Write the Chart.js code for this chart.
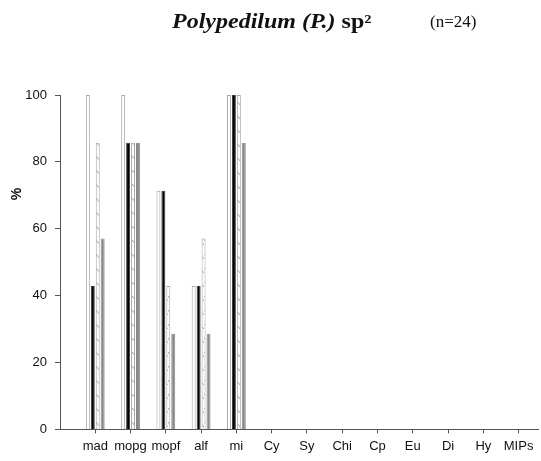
<!DOCTYPE html>
<html>
<head>
<meta charset="utf-8">
<script src="https://cdn.jsdelivr.net/npm/chart.js@4.4.1/dist/chart.umd.min.js"></script>
<style>
  html, body { margin: 0; padding: 0; background: #fff; }
  #wrap { position: relative; width: 541px; height: 461px; overflow: hidden; }
  #c { position: absolute; left: 0; top: 0; }
  .title { position: absolute; white-space: nowrap; font-family: "Liberation Serif", "Times New Roman", serif; color: #111; line-height: 20px; }
  #t1 { left: 172px; top: 11px; font-size: 20px; font-weight: bold; transform: scaleX(1.2); transform-origin: 0 0; }
  #t1 i { font-style: italic; }
  #t2 { left: 430px; top: 12px; font-size: 17px; }
  #ytitle { position: absolute; left: 8px; top: 186px; width: 16px; height: 16px; line-height: 16px; text-align: center;
            font-family: "Liberation Sans", Arial, sans-serif; font-weight: bold; font-size: 14px; color: #111;
            transform: rotate(-90deg); }
</style>
</head>
<body>
<div id="wrap">
  <canvas id="c" width="541" height="461"></canvas>
  <div class="title" id="t1"><i>Polypedilum (P.)</i> sp²</div>
  <div class="title" id="t2">(n=24)</div>
  <div id="ytitle">%</div>
</div>
<script>
const categories = ['mad','mopg','mopf','alf','mi','Cy','Sy','Chi','Cp','Eu','Di','Hy','MIPs'];
const seriesWhite   = [100, 100, 71.4, 42.9, 100, null, null, null, null, null, null, null, null];
const seriesBlack   = [42.9, 85.7, 71.4, 42.9, 100, null, null, null, null, null, null, null, null];
const seriesHatched = [85.7, 85.7, 42.9, 57.1, 100, null, null, null, null, null, null, null, null];
const seriesGray    = [57.1, 85.7, 28.6, 28.6, 85.7, null, null, null, null, null, null, null, null];
const yTicks = [0, 20, 40, 60, 80, 100];

function hatchPattern() {
  const p = document.createElement('canvas');
  p.width = 4; p.height = 14;
  const g = p.getContext('2d');
  g.fillStyle = '#fff';
  g.fillRect(0, 0, 4, 14);
  g.strokeStyle = '#9a9a9a';
  g.lineWidth = 1;
  g.beginPath();
  g.moveTo(0, 2); g.lineTo(4, 7);
  g.stroke();
  return g.createPattern(p, 'repeat');
}

const ctx = document.getElementById('c').getContext('2d');
const toXY = arr => arr.map((v, i) => ({ x: i, y: v }));

new Chart(ctx, {
  type: 'bar',
  data: {
    datasets: [
      { label: 'white', data: toXY(seriesWhite), backgroundColor: '#ffffff', borderColor: '#a8a8a8', borderWidth: 1 },
      { label: 'black', data: toXY(seriesBlack), backgroundColor: '#000000', borderColor: '#3a3a3a', borderWidth: 1 },
      { label: 'hatched', data: toXY(seriesHatched), backgroundColor: hatchPattern(), borderColor: '#a8a8a8', borderWidth: 1 },
      { label: 'gray', data: toXY(seriesGray), backgroundColor: '#8a8a8a', borderColor: '#8a8a8a', borderWidth: 1 }
    ]
  },
  options: {
    responsive: false,
    animation: false,
    devicePixelRatio: 1,
    categoryPercentage: 0.56,
    barPercentage: 0.8,
    layout: { padding: { top: 95, right: 3, bottom: 2, left: 0 } },
    plugins: { legend: { display: false }, tooltip: { enabled: false }, title: { display: false } },
    scales: {
      x: {
        type: 'linear',
        offset: false,
        min: -1,
        max: 12.55,
        grid: { display: true, drawOnChartArea: false, drawTicks: true, tickLength: 4, color: '#555', offset: false },
        border: { display: true, color: '#555', width: 1 },
        afterBuildTicks: scale => { scale.ticks = categories.map((c, i) => ({ value: i })); },
        ticks: {
          autoSkip: false,
          maxRotation: 0,
          padding: 5,
          color: '#111',
          font: { family: '"Liberation Sans", Arial, sans-serif', size: 13 },
          callback: v => categories[v] !== undefined ? categories[v] : ''
        }
      },
      y: {
        min: 0,
        max: 100,
        afterFit: scale => { scale.width = 60; },
        afterBuildTicks: scale => { scale.ticks = yTicks.map(v => ({ value: v })); },
        grid: { display: true, drawOnChartArea: false, drawTicks: true, tickLength: 5, color: '#555' },
        border: { display: true, color: '#555', width: 1 },
        ticks: {
          padding: 8,
          color: '#111',
          font: { family: '"Liberation Sans", Arial, sans-serif', size: 13 }
        }
      }
    }
  }
});
</script>
</body>
</html>
